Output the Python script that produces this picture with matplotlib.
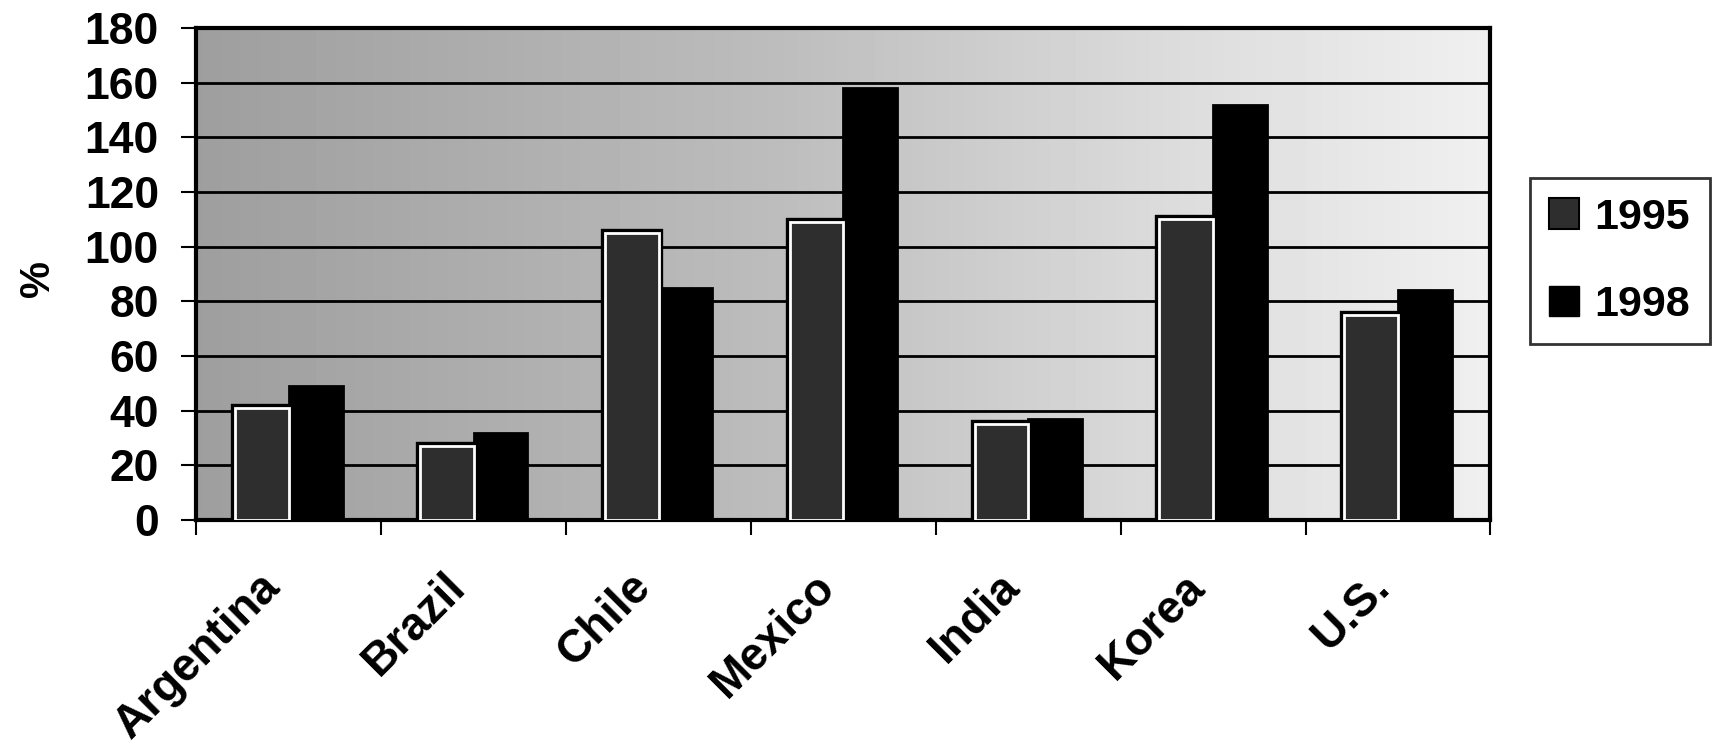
import matplotlib.pyplot as plt
import numpy as np
from matplotlib.patches import Patch

plt.rcParams['font.family'] = ['Liberation Sans', 'DejaVu Sans']
plt.rcParams['font.weight'] = 'bold'

countries = ['Argentina', 'Brazil', 'Chile', 'Mexico', 'India', 'Korea', 'U.S.']
years = ['1995', '1998']
vals_1995 = [41, 27, 105, 109, 35, 110, 75]
vals_1998 = [49, 32, 85, 158, 37, 152, 84]

fig = plt.figure(figsize=(17.16, 7.55), dpi=100)
ax = fig.add_axes([0.1145, 0.311, 0.754, 0.652])

# shaded backdrop, darker on the left and fading to the right
grad = np.interp(np.linspace(0, 1, 400), [0, 0.45, 0.75, 1], [0.62, 0.74, 0.86, 0.94])
ax.imshow(grad[np.newaxis, :], cmap='gray', vmin=0, vmax=1, aspect='auto',
          extent=[0, 1, 0, 1], transform=ax.transAxes, zorder=0)

x = np.arange(len(countries))
w = 0.29

# 1995 bars: dark fill, white inner rim, black outline
ax.bar(x - w / 2, vals_1995, w, color='#2e2e2e', edgecolor='black', linewidth=6, zorder=3)
ax.bar(x - w / 2, vals_1995, w, color='#2e2e2e', edgecolor='white', linewidth=2, zorder=4)
ax.bar(x + w / 2, vals_1998, w, color='black', edgecolor='black', linewidth=2, zorder=3)

ax.set_xlim(-0.5, len(countries) - 0.5)
ax.set_ylim(0, 180)
ax.set_yticks(np.arange(0, 181, 20))
ax.yaxis.grid(True, color='black', linewidth=2, zorder=1)
ax.set_axisbelow(False)

ax.set_xticks(np.arange(-0.5, len(countries), 1.0))
ax.set_xticklabels([])
ax.tick_params(axis='x', length=11, width=1.5, direction='out')
ax.tick_params(axis='y', length=11, width=1.5, direction='out', labelsize=32, pad=16)

for xi, name in zip(x, countries):
    ax.annotate(name, (xi, 0), xycoords=('data', 'axes fraction'),
                xytext=(-22, -32), textcoords='offset points',
                rotation=45, ha='right', va='top', rotation_mode='anchor',
                fontsize=33)

for s in ax.spines.values():
    s.set_linewidth(3)
    s.set_color('black')

ax.set_ylabel('%', fontsize=30, fontweight='bold')
ax.yaxis.set_label_coords(-0.107, 0.49)

handles = [Patch(facecolor='#2e2e2e', edgecolor='black', linewidth=1.5),
           Patch(facecolor='black', edgecolor='black')]
leg = fig.legend(handles, years, loc='upper left', bbox_to_anchor=(0.8916, 0.764),
                 fontsize=31, frameon=True, fancybox=False, edgecolor='black',
                 handlelength=0.7, handleheight=0.7, handletextpad=0.35,
                 labelspacing=1.1, borderpad=0.45, borderaxespad=0)
leg.get_frame().set_linewidth(2)

fig.savefig('out.png', dpi=100, facecolor='white')
